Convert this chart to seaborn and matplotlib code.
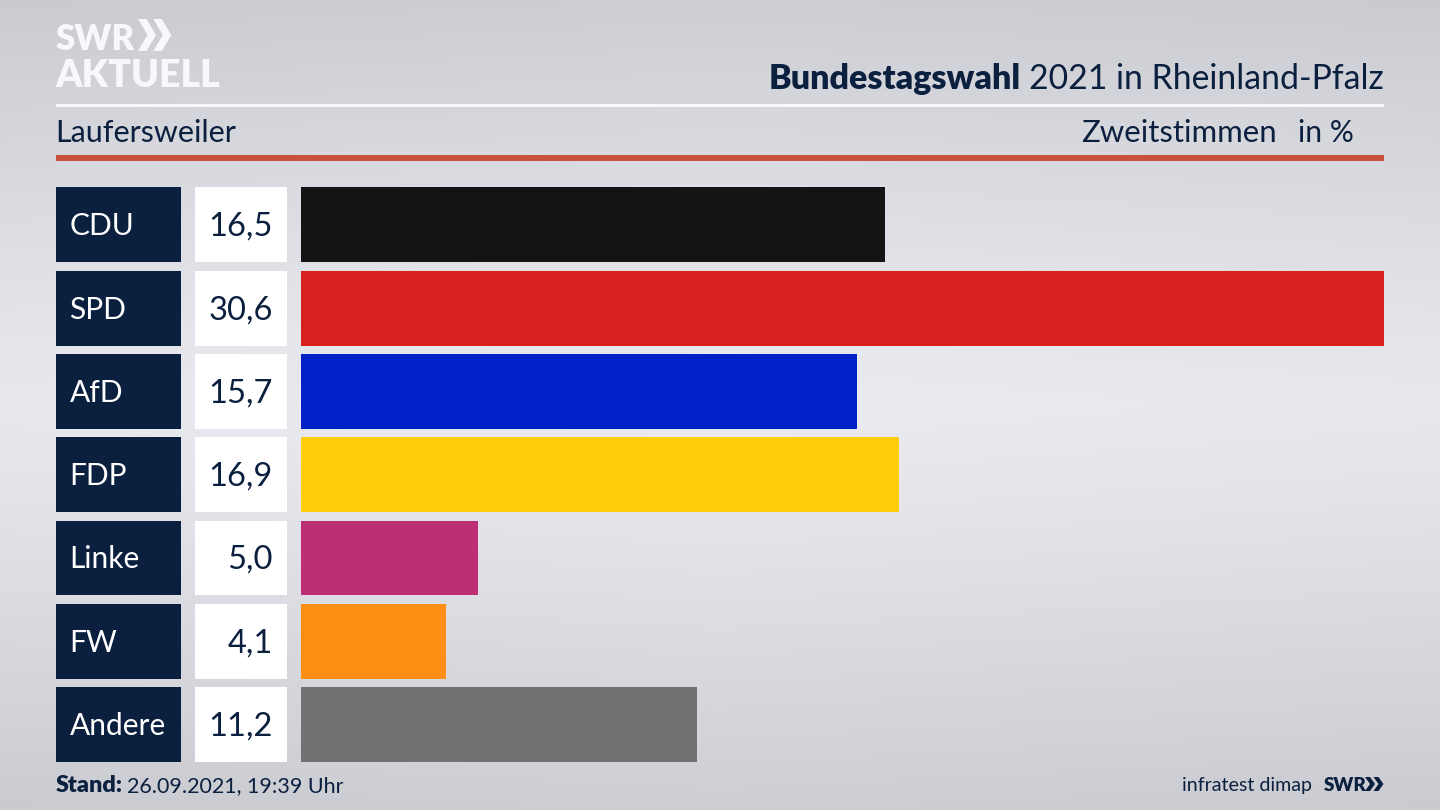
import numpy as np
import pandas as pd
import matplotlib
matplotlib.use("Agg")
import matplotlib.pyplot as plt
from matplotlib.patches import Rectangle, Polygon
from matplotlib.transforms import blended_transform_factory
import seaborn as sns

parties = ["CDU", "SPD", "AfD", "FDP", "Linke", "FW", "Andere"]
shares = [16.5, 30.6, 15.7, 16.9, 5.0, 4.1, 11.2]
share_labels = ["16,5", "30,6", "15,7", "16,9", "5,0", "4,1", "11,2"]
colors = ["#141414", "#d8201e", "#0021c8", "#ffcd0a", "#bc2f74", "#ff8f14", "#727274"]

W, H = 1440, 810
NAVY = "#0b1f3f"
FONT = "Lato"
plt.rcParams["font.family"] = FONT

fig = plt.figure(figsize=(W / 100, H / 100), dpi=100)

def fx(p): return p / W
def fy(p): return 1 - p / H

# background gradient
bg = fig.add_axes([0, 0, 1, 1], zorder=0)
yy, xx = np.mgrid[0:1:200j, 0:1:200j]
d = np.clip(np.abs(yy - 0.5) * 2, 0, 1) ** 1.15
shade = 0.925 - 0.115 * d - 0.012 * np.abs(xx - 0.5) * 2
base = np.dstack([shade * 0.995, shade * 1.0, shade * 1.025]).clip(0, 1)
bg.imshow(base, aspect="auto", extent=[0, 1, 0, 1], origin="lower", interpolation="bilinear")
bg.set_axis_off()

# bars
left, right, top, bottom = 301, 1384, 187.4, 762
ax = fig.add_axes([fx(left), fy(bottom), fx(right - left), (bottom - top) / H], zorder=2)
ax.patch.set_alpha(0)
df = pd.DataFrame({"party": parties, "share": shares})
sns.barplot(data=df, x="share", y="party", hue="party", order=parties, hue_order=parties,
            palette=colors, width=0.9, dodge=False, legend=False, saturation=1, ax=ax)
ax.set_xlim(0, 30.6)
ax.set_ylim(6.45, -0.45)
ax.set_axis_off()

# label cells, placed per category through the axes' y scale
tr = blended_transform_factory(fig.transFigure, ax.transData)
TEXT_SHIFT = 0.012
for i, (p, s) in enumerate(zip(parties, share_labels)):
    fig.add_artist(Rectangle((fx(56), i - 0.45), fx(125), 0.9, transform=tr, fc=NAVY, ec="none", zorder=3))
    fig.add_artist(Rectangle((fx(195), i - 0.45), fx(92), 0.9, transform=tr, fc="white", ec="none", zorder=3))
    fig.text(fx(69.5), i - TEXT_SHIFT, p, transform=tr, color="white", fontsize=21.5, va="center_baseline", ha="left", zorder=4)
    fig.text(fx(273), i - TEXT_SHIFT, s, transform=tr, color=NAVY, fontsize=23.5, va="center_baseline", ha="right", zorder=4)

# rules
fig.add_artist(Rectangle((fx(56), fy(107)), fx(1328), 3 / H, fc="#f7f8fa", ec="none"))
fig.add_artist(Rectangle((fx(56), fy(160.5)), fx(1328), 5 / H, fc="#c94f3f", ec="none"))

# header
t = fig.text(fx(1384), fy(89), "2021 in Rheinland-Pfalz", color=NAVY, fontsize=24.35, ha="right", va="baseline")
fig.canvas.draw()
bb = t.get_window_extent()
fig.text((bb.x0 - 8) / W, fy(89), "Bundestagswahl", color=NAVY, fontsize=24.5, fontweight="black", ha="right", va="baseline")
fig.text(fx(55), fy(142), "Laufersweiler", color=NAVY, fontsize=22, ha="left", va="baseline")
fig.text(fx(1277), fy(142), "Zweitstimmen", color=NAVY, fontsize=22.4, ha="right", va="baseline")
fig.text(fx(1354), fy(142), "in %", color=NAVY, fontsize=21.6, ha="right", va="baseline")

# footer
s = fig.text(fx(56), fy(792), "Stand:", color=NAVY, fontsize=16.8, fontweight="black", ha="left", va="baseline")
fig.canvas.draw()
bb = s.get_window_extent()
fig.text((bb.x1 + 4) / W, fy(792), "26.09.2021, 19:39 Uhr", color=NAVY, fontsize=15.5, ha="left", va="baseline")
fig.text(fx(1312), fy(791), "infratest dimap", color=NAVY, fontsize=14.1, ha="right", va="baseline")
fig.text(fx(1324), fy(791), "SWR", color=NAVY, fontsize=13.5, fontweight="black", ha="left", va="baseline")

def chevrons(x0, ytop, ybot, w, thick, color):
    mid = (ytop + ybot) / 2
    for k in (0, 1):
        x = x0 + k * (w * 0.85)
        pts = [(x, ytop), (x + thick, ytop), (x + w, mid), (x + thick, ybot), (x, ybot), (x + w - thick, mid)]
        fig.add_artist(Polygon([(fx(a), fy(b)) for a, b in pts], closed=True, fc=color, ec="none"))

chevrons(1365, 777, 791, 10, 5, NAVY)

# logo
fig.text(fx(55), fy(50), "SWR", color="#f7f8fa", fontsize=25, fontweight="black", ha="left", va="baseline")
chevrons(138, 19, 51, 18, 8.5, "#f7f8fa")
fig.text(fx(55), fy(87), "AKTUELL", color="#f7f8fa", fontsize=27, fontweight="black", ha="left", va="baseline")

fig.savefig("out.png", dpi=100)
